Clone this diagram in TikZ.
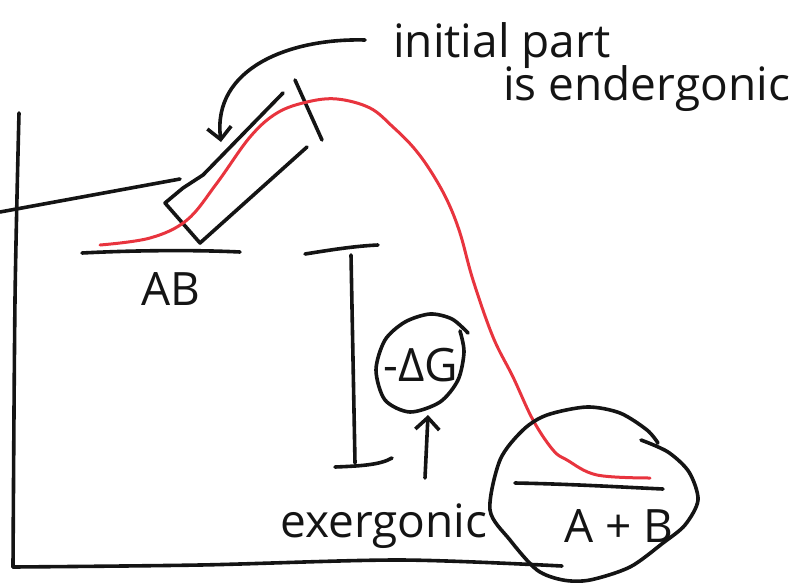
\documentclass[tikz,border=0pt]{standalone}
\usepackage{fontspec}
\setmainfont{Open Sans}
\usetikzlibrary{arrows.meta}
\definecolor{curvered}{RGB}{232,52,62}
\definecolor{inkc}{RGB}{20,20,20}
\tikzset{
  ink/.style={draw=inkc, line width=3.6pt, line cap=round, line join=round},
  redline/.style={draw=curvered, line width=3pt, line cap=round},
  hand/.style={font=\fontsize{46}{50}\selectfont, inner sep=0pt, text=inkc},
  barb/.style={-{Straight Barb[length=12pt,width=24pt]}}
}
\begin{document}
\begin{tikzpicture}[x=1pt,y=-1pt]
\useasboundingbox (0,0) rectangle (793,582);
% axes
\draw[ink] plot[smooth] coordinates {(19,113) (15,300) (13,567)};
\draw[ink] plot[smooth] coordinates {(13,567) (200,565) (400,560) (562,566)};
% left level line
\draw[ink] (0,212) -- (180,179);
% levels
\draw[ink] (82,253) .. controls (140,250) and (200,250) .. (240,252);
\draw[ink] (515,483) .. controls (570,484) and (620,487) .. (663,489);
% delta G bracket
\draw[ink] (305,254) .. controls (330,250) and (355,246) .. (378,245);
\draw[ink] (351,255) -- (355,463);
\draw[ink] (335,467) .. controls (360,466) and (380,465) .. (392,458);
% box
\draw[ink] (283,93) -- (203,175) -- (183,188) -- (165,203) -- (200,243) -- (307,147);
\draw[ink] (295,80) -- (322,140);
% red curve
\draw[redline] plot[smooth, tension=0.6] coordinates {(100,245) (150,238) (187,220) (217,183) (250,137) (277,113) (307,102) (337,99) (370,108) (393,127) (413,147) (430,170) (447,200) (460,233) (473,280) (493,337) (513,377) (533,420) (553,450) (567,460) (597,475) (650,478)};
% circles
\draw[ink] plot[smooth] coordinates {(460,331) (464,352) (458,380) (440,402) (410,412) (385,400) (376,370) (385,340) (405,322) (430,314) (452,319) (468,333)};
\draw[ink] plot[smooth] coordinates {(658,443) (647,430) (620,413) (587,407) (547,415) (523,430) (500,460) (490,510) (510,540) (537,570) (563,580) (590,580) (630,567) (663,543) (685,525) (698,500) (689,472) (668,452) (641,440)};
% texts
\node[hand, anchor=base west] (init) at (393,57) {initial part};
\node[hand, anchor=base west] (ender) at (503,100) {is endergonic};
\node[hand, anchor=base] (ab) at (171,305) {AB};
\node[hand, anchor=base] (apb) at (619,542) {A + B};
\node[hand, anchor=base west] (exer) at (280,537) {exergonic};
\node[hand, anchor=center] (dg) at (421,365) {-ΔG};
% arrows
\coordinate (arrowstart) at (365,40);
\coordinate (arrowtip) at (221,142);
\draw[ink, barb] (arrowstart) .. controls (290,38) and (212,68) .. (arrowtip);
\coordinate (upstart) at (425,478);
\coordinate (uptip) at (428,415);
\draw[ink, barb] (upstart) -- (uptip);
\end{tikzpicture}
\end{document}
